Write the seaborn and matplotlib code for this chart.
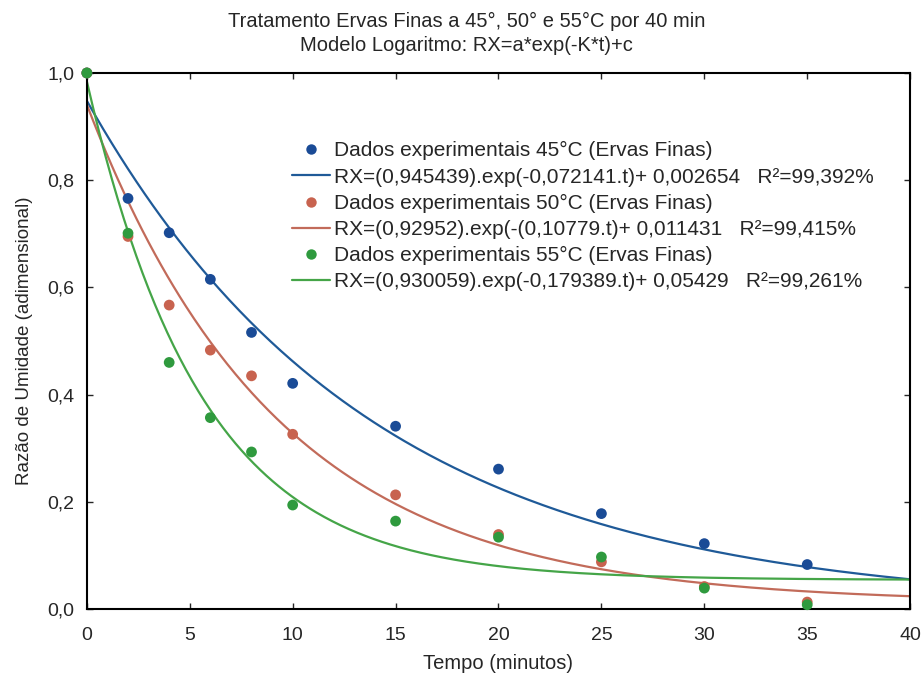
import numpy as np
import pandas as pd
import matplotlib
matplotlib.use("Agg")
import matplotlib.pyplot as plt
from matplotlib.lines import Line2D
from matplotlib.ticker import FuncFormatter
import seaborn as sns

tempo = [0, 2, 4, 6, 8, 10, 15, 20, 25, 30, 35]
rx_45 = [1.0, 0.766, 0.702, 0.615, 0.516, 0.421, 0.341, 0.261, 0.178, 0.122, 0.083]
rx_50 = [1.0, 0.695, 0.567, 0.483, 0.435, 0.326, 0.213, 0.139, 0.088, 0.042, 0.013]
rx_55 = [1.0, 0.701, 0.460, 0.357, 0.293, 0.194, 0.164, 0.134, 0.097, 0.039, 0.008]

# fitted model parameters from the legend: RX = a*exp(-k*t) + c
par_a = [0.945439, 0.92952, 0.930059]
par_k = [0.072141, 0.10779, 0.179389]
par_c = [0.002654, 0.011431, 0.05429]

labels_dados = ["Dados experimentais 45°C (Ervas Finas)",
                "Dados experimentais 50°C (Ervas Finas)",
                "Dados experimentais 55°C (Ervas Finas)"]
labels_modelo = ["RX=(0,945439).exp(-0,072141.t)+ 0,002654   R²=99,392%",
                 "RX=(0,92952).exp(-(0,10779.t)+ 0,011431   R²=99,415%",
                 "RX=(0,930059).exp(-0,179389.t)+ 0,05429   R²=99,261%"]

dot_colors = ["#1a4b96", "#c8634f", "#2f9a3e"]
line_colors = ["#1f5a98", "#c26b5a", "#45a548"]

sns.set_style("ticks")
plt.rcParams['font.family'] = ['Liberation Sans', 'DejaVu Sans']

fig = plt.figure(figsize=(9.24, 6.82), dpi=100)
ax = fig.add_axes([0.094, 0.107, 0.891, 0.786])

t_fit = np.linspace(0, 40, 400)
for a, k, c, col in zip(par_a, par_k, par_c, line_colors):
    sns.lineplot(x=t_fit, y=a * np.exp(-k * t_fit) + c, color=col, lw=1.6, ax=ax)

for ys, col in zip([rx_45, rx_50, rx_55], dot_colors):
    sns.scatterplot(x=tempo, y=ys, color=col, s=60, edgecolor='none', ax=ax,
                    zorder=3, clip_on=False)

ax.set_xlim(0, 40)
ax.set_ylim(0, 1.0)
ax.set_xticks(range(0, 41, 5))
ax.set_yticks(np.arange(0, 1.01, 0.2))
ax.yaxis.set_major_formatter(FuncFormatter(lambda v, p: f"{v:.1f}".replace('.', ',')))
ax.tick_params(direction='in', top=True, right=True, length=4, width=1,
               labelsize=14)
ax.tick_params(axis='x', pad=13)
ax.tick_params(axis='y', pad=9)
for s in ax.spines.values():
    s.set_linewidth(1.5)
    s.set_color('black')

ax.set_xlabel("Tempo (minutos)", fontsize=14.5, labelpad=7)
ax.set_ylabel("Razão de Umidade (adimensional)", fontsize=13.5, labelpad=10)

fig.text(0.505, 0.969, "Tratamento Ervas Finas a 45°, 50° e 55°C por 40 min",
         ha='center', va='center', fontsize=14.5)
fig.text(0.505, 0.933, "Modelo Logaritmo: RX=a*exp(-K*t)+c",
         ha='center', va='center', fontsize=14.5)

handles, labels = [], []
for i in range(3):
    handles.append(Line2D([], [], ls='none', marker='o', ms=7.5,
                          color=dot_colors[i], mec='none'))
    labels.append(labels_dados[i])
    handles.append(Line2D([], [], color=line_colors[i], lw=1.6))
    labels.append(labels_modelo[i])
ax.legend(handles, labels, loc='upper left', bbox_to_anchor=(0.305, 0.808),
          bbox_transform=fig.transFigure, frameon=False, fontsize=15,
          handlelength=1.8, handletextpad=0.2, labelspacing=0.345, borderpad=0)

fig.savefig("out.png", dpi=100)
